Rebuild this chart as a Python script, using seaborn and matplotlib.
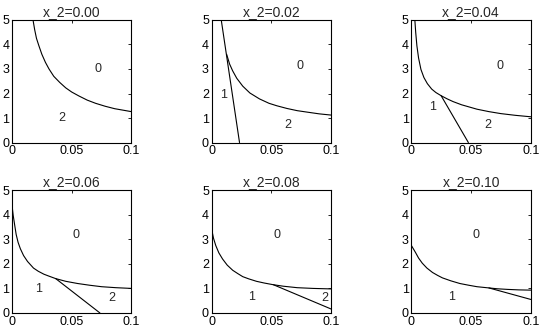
import numpy as np
import pandas as pd
import seaborn as sns
import matplotlib.pyplot as plt

# panel titles
titles = ["x_2=0.00", "x_2=0.02", "x_2=0.04", "x_2=0.06", "x_2=0.08", "x_2=0.10"]

# boundary curve around region 0
curve_x = [
    [0.0176, 0.019, 0.0205, 0.0225, 0.025, 0.028, 0.031, 0.035, 0.040, 0.045,
     0.050, 0.056, 0.063, 0.070, 0.078, 0.086, 0.093, 0.1],
    [0.0125, 0.015, 0.0176, 0.021, 0.026, 0.032, 0.040, 0.048, 0.0545, 0.063,
     0.0716, 0.080, 0.090, 0.1],
    [0.0029, 0.0036, 0.0046, 0.006, 0.008, 0.0105, 0.0134, 0.017, 0.0205, 0.0249,
     0.030, 0.0349, 0.042, 0.0549, 0.065, 0.0749, 0.087, 0.1],
    [0.0, 0.001, 0.0023, 0.0035, 0.0051, 0.007, 0.0097, 0.013, 0.018, 0.022,
     0.0267, 0.031, 0.0366, 0.045, 0.055, 0.065, 0.075, 0.087, 0.1],
    [0.0, 0.0015, 0.0034, 0.006, 0.0091, 0.013, 0.0176, 0.022, 0.026, 0.031,
     0.0375, 0.044, 0.0517, 0.060, 0.0716, 0.085, 0.1],
    [0.0, 0.0034, 0.006, 0.0091, 0.013, 0.0177, 0.022, 0.026, 0.033, 0.0406,
     0.048, 0.0549, 0.0649, 0.072, 0.0806, 0.090, 0.1],
]
curve_y = [
    [5.0, 4.6, 4.25, 3.95, 3.6, 3.27, 3.0, 2.7, 2.45, 2.23,
     2.06, 1.9, 1.73, 1.6, 1.48, 1.38, 1.32, 1.26],
    [3.6, 3.2, 2.92, 2.62, 2.3, 2.02, 1.78, 1.6, 1.5, 1.39,
     1.3, 1.24, 1.17, 1.12],
    [5.0, 4.5, 3.95, 3.45, 2.98, 2.65, 2.4, 2.18, 2.04, 1.91,
     1.78, 1.67, 1.54, 1.36, 1.26, 1.18, 1.11, 1.05],
    [4.4, 3.98, 3.57, 3.2, 2.88, 2.62, 2.34, 2.1, 1.83, 1.7,
     1.58, 1.5, 1.40, 1.29, 1.20, 1.13, 1.07, 1.03, 1.0],
    [3.41, 3.05, 2.75, 2.45, 2.2, 1.95, 1.74, 1.6, 1.48, 1.39,
     1.29, 1.22, 1.15, 1.09, 1.03, 1.0, 0.98],
    [2.75, 2.47, 2.24, 2.03, 1.83, 1.65, 1.53, 1.43, 1.31, 1.2,
     1.13, 1.07, 1.02, 0.985, 0.96, 0.94, 0.93],
]

# straight boundary (region 1 | region 2)
line_x = [[], [0.008, 0.0233], [0.0249, 0.0477], [0.0366, 0.0736], [0.0517, 0.1], [0.0649, 0.1]]
line_y = [[], [5.0, 0.0], [1.91, 0.0], [1.40, 0.0], [1.15, 0.16], [1.02, 0.55]]

# region labels
label_text = [["0", "2"], ["0", "1", "2"], ["0", "1", "2"], ["0", "1", "2"], ["0", "1", "2"], ["0", "1"]]
label_x = [[0.0722, 0.042], [0.0739, 0.0102, 0.0636], [0.0743, 0.0177, 0.064],
           [0.0537, 0.0224, 0.0835], [0.0545, 0.0338, 0.0943], [0.054, 0.0334]]
label_y = [[3.0, 1.0], [3.13, 1.94, 0.73], [3.13, 1.43, 0.73],
           [3.19, 0.99, 0.59], [3.19, 0.66, 0.62], [3.19, 0.66]]

sns.set_theme(style="white")
plt.rcParams['font.family'] = ['Liberation Sans', 'DejaVu Sans']
plt.rcParams['font.size'] = 9

fig, axes = plt.subplots(2, 3, figsize=(5.45, 3.27), dpi=100)
fig.subplots_adjust(left=0.022, right=0.974, bottom=0.043, top=0.939, wspace=0.672, hspace=0.39)

for i, ax in enumerate(axes.flat):
    df = pd.DataFrame({"x": curve_x[i], "y": curve_y[i]})
    sns.lineplot(data=df, x="x", y="y", color="black", lw=0.8, ax=ax, estimator=None, sort=False)
    if line_x[i]:
        sns.lineplot(x=line_x[i], y=line_y[i], color="black", lw=0.8, ax=ax, estimator=None, sort=False)
    for t, lx, ly in zip(label_text[i], label_x[i], label_y[i]):
        ax.text(lx, ly, t, ha="center", va="center", fontsize=9)

    ax.set_xlim(0, 0.1)
    ax.set_ylim(0, 5)
    ax.set_xticks([0, 0.05, 0.1])
    ax.set_xticklabels(["0", "0.05", "0.1"])
    ax.set_yticks([0, 1, 2, 3, 4, 5])
    ax.set_xlabel("")
    ax.set_ylabel("")
    ax.set_title(titles[i], fontsize=10, pad=3)
    ax.tick_params(direction="in", length=2.5, width=0.6, top=True, right=True,
                   labelsize=9, pad=2, colors="black")
    for s in ax.spines.values():
        s.set_color("black")
        s.set_linewidth(0.8)

fig.savefig("out.png", dpi=100)
